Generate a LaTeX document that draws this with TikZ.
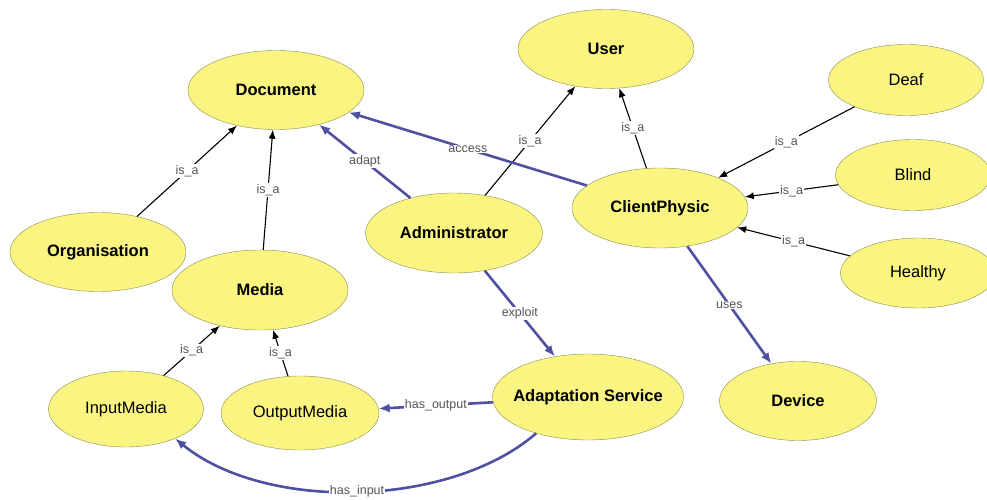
\documentclass[tikz,border=0pt]{standalone}
\usepackage{fontspec}
\setmainfont{Liberation Sans}
\usetikzlibrary{shapes.geometric, arrows.meta}
\definecolor{conceptfill}{RGB}{250,245,128}
\definecolor{conceptline}{RGB}{140,140,80}
\definecolor{relblue}{RGB}{80,80,160}
\definecolor{labelgray}{RGB}{85,85,85}

\begin{document}
\begin{tikzpicture}[x=1pt, y=-1pt,
	concept/.style={ellipse, draw=conceptline, fill=conceptfill, inner sep=0pt, minimum width=176pt, minimum height=79pt, font=\fontsize{16.5}{18}\selectfont\bfseries},
	leaf/.style={concept, minimum width=155pt, minimum height=72pt, font=\fontsize{16.5}{18}\selectfont},
	isa/.style={draw=black, line width=1.1pt, -{Latex[length=9pt,width=7pt]}},
	rel/.style={draw=relblue, line width=2.6pt, -{Latex[length=11pt,width=9pt]}},
	lbl/.style={fill=white, text=labelgray, inner sep=1pt, font=\fontsize{12.5}{14}\selectfont}]
	\useasboundingbox (0,0) rectangle (987,500);

	% concepts
	\node[concept] (document) at (276,90) {Document};
	\node[concept] (organisation) at (98,252) {Organisation};
	\node[concept, minimum height=80pt] (media) at (260,290) {Media};
	\node[concept, minimum width=177pt, minimum height=80pt] (admin) at (454,233) {Administrator};
	\node[concept] (user) at (606,49) {User};
	\node[concept, minimum height=80pt] (client) at (660,208) {ClientPhysic};
	\node[concept, minimum width=157pt] (device) at (798,401) {Device};
	\node[concept, minimum width=191pt, minimum height=86pt, inner xsep=-8pt] (service) at (588,397) {Adaptation Service};

	% leaves
	\node[leaf, minimum height=71pt] (deaf) at (906,80) {Deaf};
	\node[leaf, minimum height=71pt] (blind) at (913,175) {Blind};
	\node[leaf, minimum height=70pt] (healthy) at (918,273) {Healthy};
	\node[leaf, minimum height=76pt] (input) at (126,409) {InputMedia};
	\node[leaf, minimum width=158pt, minimum height=74pt] (output) at (300,413) {OutputMedia};

	% is_a links
	\draw[isa] (organisation) -- node[lbl] {is\_a} (document);
	\draw[isa] (media) -- node[lbl] {is\_a} (document);
	\draw[isa] (admin) -- node[lbl] {is\_a} (user);
	\draw[isa] (client) -- node[lbl] {is\_a} (user);
	\draw[isa] (deaf) -- node[lbl] {is\_a} (client);
	\draw[isa] (blind) -- node[lbl] {is\_a} (client);
	\draw[isa] (healthy) -- node[lbl] {is\_a} (client);
	\draw[isa] (input) -- node[lbl] {is\_a} (media);
	\draw[isa] (output) -- node[lbl] {is\_a} (media);

	% relations
	\draw[rel] (admin) -- node[lbl] {adapt} (document);
	\draw[rel] (client) -- node[lbl] {access} (document);
	\draw[rel] (client) -- node[lbl] {uses} (device);
	\draw[rel] (admin) -- node[lbl] {exploit} (service);
	\draw[rel] (service) -- node[lbl] {has\_output} (output);
	\draw[rel] (service.215) .. controls (450,508) and (265,512) .. (input.-31) node[lbl, pos=0.5] {has\_input};
\end{tikzpicture}
\end{document}
